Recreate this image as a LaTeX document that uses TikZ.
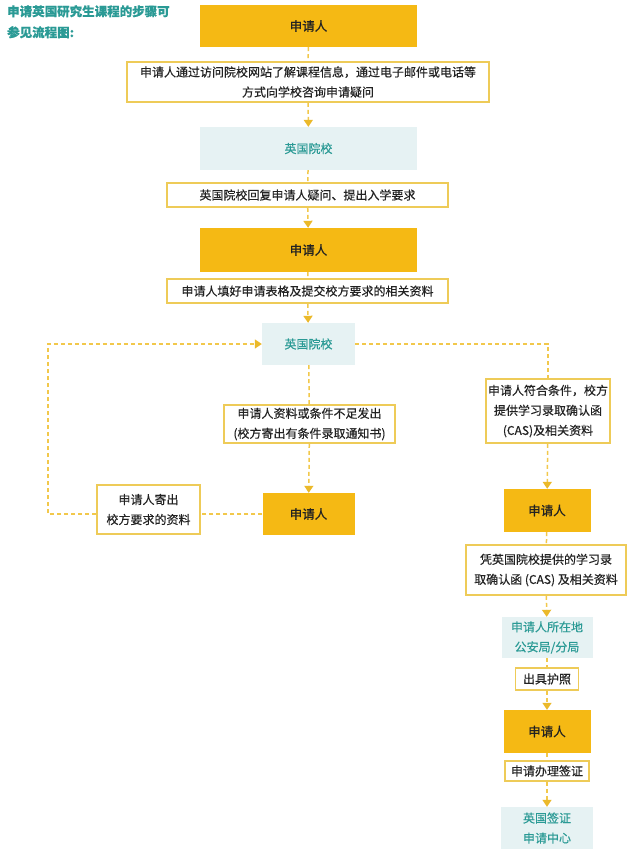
\documentclass[tikz,border=0pt]{standalone}
\usepackage{fontspec}
\setmainfont{Noto Sans CJK SC}[FakeBold=0.4]
\newfontfamily\heavyfont{Noto Sans CJK SC}[FakeBold=1.0]
\usetikzlibrary{arrows.meta}
\definecolor{gold}{HTML}{F5B914}
\definecolor{bord}{HTML}{EECB58}
\definecolor{lblue}{HTML}{E6F2F3}
\definecolor{tealtx}{HTML}{2A9A95}
\definecolor{dashc}{HTML}{F2C84B}
\definecolor{tipc}{HTML}{EBB92A}
\definecolor{txt}{HTML}{222222}
\tikzset{
  base/.style={inner sep=0pt, align=center, font=\fontsize{12}{20}\selectfont, text=txt},
  ybox/.style={base, fill=gold, font=\heavyfont\fontsize{12.5}{15}\selectfont},
  bbox/.style={base, fill=lblue, text=tealtx},
  tbox/.style={base, fill=white, draw=bord, line width=1.6pt},
  con/.style={draw=dashc, line width=1.5pt, dash pattern=on 4pt off 3pt},
  arr/.style={con, -{Triangle[width=9pt,length=7pt,fill=tipc,color=tipc]}},
  titlestyle/.style={inner sep=0pt, align=left, anchor=north west, text=tealtx, font=\fontsize{12.5}{21}\selectfont\bfseries},
}
\begin{document}
\begin{tikzpicture}[x=1pt,y=-1pt]
\useasboundingbox[fill=white] (0,0) rectangle (640,852);
\node[titlestyle] (title) at (7,5) {申请英国研究生课程的步骤可\\参见流程图:};
% centre column
\node[ybox, minimum width=217pt, minimum height=42pt] (n1) at (308.5,26) {申请人};
\node[tbox, minimum width=362pt, minimum height=40pt] (n2) at (308,82) {申请人通过访问院校网站了解课程信息，通过电子邮件或电话等\\方式向学校咨询申请疑问};
\node[bbox, minimum width=217pt, minimum height=43pt] (n3) at (308.5,148.5) {英国院校};
\node[tbox, minimum width=281pt, minimum height=24pt] (n4) at (307.5,195) {英国院校回复申请人疑问、提出入学要求};
\node[ybox, minimum width=217pt, minimum height=44pt] (n5) at (308.5,250) {申请人};
\node[tbox, minimum width=281pt, minimum height=24pt] (n6) at (307.5,291) {申请人填好申请表格及提交校方要求的相关资料};
\node[bbox, minimum width=93pt, minimum height=42pt] (n7) at (308.5,344) {英国院校};
\node[tbox, minimum width=171pt, minimum height=38pt] (n8) at (309.5,424) {申请人资料或条件不足发出\\(校方寄出有条件录取通知书)};
\node[ybox, minimum width=92pt, minimum height=42pt] (n9) at (308.5,514) {申请人};
\node[tbox, minimum width=103pt, minimum height=49pt] (n10) at (148.5,509.5) {申请人寄出\\校方要求的资料};
% right column
\node[tbox, minimum width=124pt, minimum height=64pt] (n11) at (548,411) {申请人符合条件，校方\\提供学习录取确认函\\(CAS)及相关资料};
\node[ybox, minimum width=87pt, minimum height=43pt] (n12) at (547,510.5) {申请人};
\node[tbox, minimum width=160pt, minimum height=50pt] (n13) at (546,570) {凭英国院校提供的学习录\\取确认函 (CAS) 及相关资料};
\node[bbox, minimum width=91pt, minimum height=41pt] (n14) at (547,637.5) {申请人所在地\\公安局/分局};
\node[tbox, minimum width=63pt, minimum height=22pt] (n15) at (547,679) {出具护照};
\node[ybox, minimum width=87pt, minimum height=43pt] (n16) at (547,731.5) {申请人};
\node[tbox, minimum width=84pt, minimum height=20pt] (n17) at (547,771) {申请办理签证};
\node[bbox, minimum width=92pt, minimum height=42pt] (n18) at (547,828) {英国签证\\申请中心};
% connectors
\draw[con] (n1) -- (n2);
\draw[arr] (n2) -- (n3);
\draw[con] (n3) -- (n4);
\draw[arr] (n4) -- (n5);
\draw[con] (n5) -- (n6);
\draw[arr] (n6) -- (n7);
\draw[con] (n7) -- (n8);
\draw[arr] (n8) -- (n9);
\coordinate (lc) at (48,514);
\draw[con] (n9.west) -- (n9.west -| n10.east);
\draw[arr] (n9.west -| n10.west) -- (lc) |- (n7.west);
\draw[con] (n7.east) -| (n11.north);
\draw[arr] (n11) -- (n12);
\draw[con] (n12) -- (n13);
\draw[arr] (n13) -- (n14);
\draw[con] (n14) -- (n15);
\draw[arr] (n15) -- (n16);
\draw[con] (n16) -- (n17);
\draw[arr] (n17) -- (n18);
\end{tikzpicture}
\end{document}
